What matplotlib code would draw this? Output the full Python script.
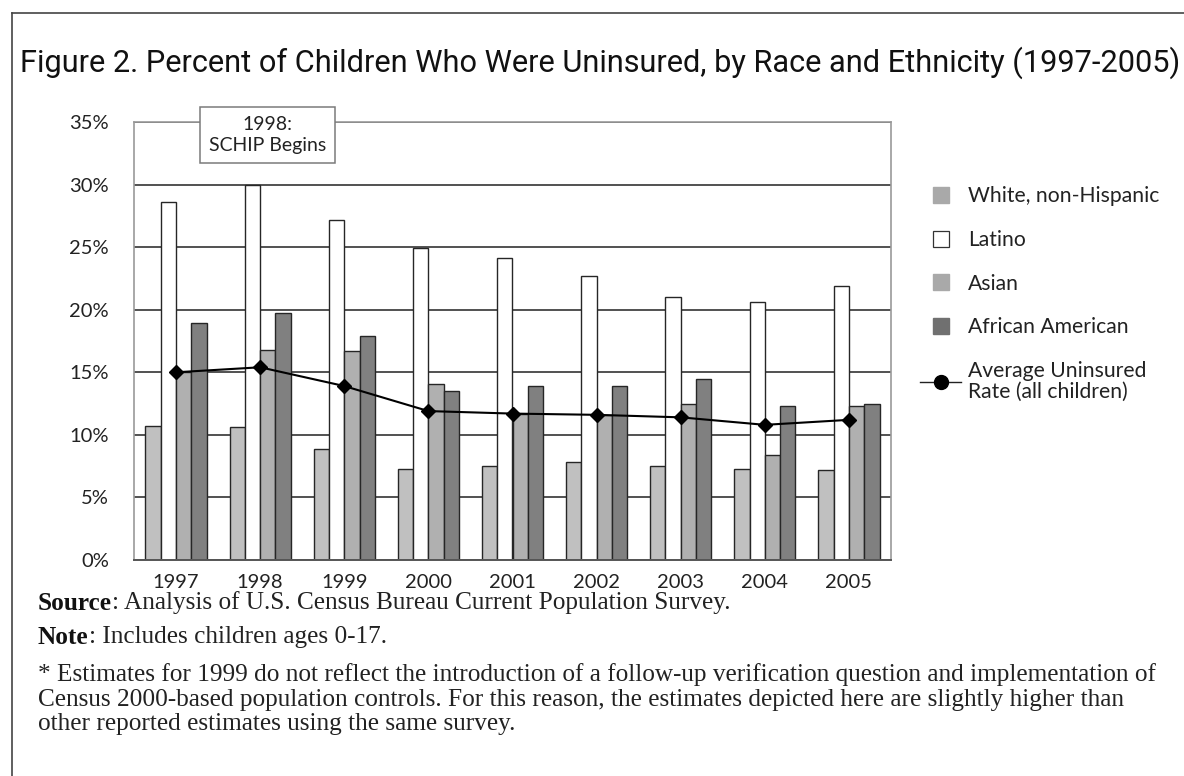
import matplotlib
matplotlib.use("Agg")
import matplotlib.pyplot as plt
from matplotlib import font_manager
from matplotlib.lines import Line2D
import numpy as np

# ---- data ----
years = ["1997", "1998", "1999", "2000", "2001", "2002", "2003", "2004", "2005"]
white_non_hispanic = [10.7, 10.6, 8.9, 7.3, 7.5, 7.8, 7.5, 7.3, 7.2]
latino = [28.6, 30.0, 27.2, 24.9, 24.1, 22.7, 21.0, 20.6, 21.9]
asian = [15.0, 16.8, 16.7, 14.1, 11.7, 11.6, 12.5, 8.4, 12.3]
african_american = [18.9, 19.7, 17.9, 13.5, 13.9, 13.9, 14.5, 12.3, 12.5]
average_all = [15.0, 15.4, 13.9, 11.9, 11.7, 11.6, 11.4, 10.8, 11.2]
y_ticks = [0, 5, 10, 15, 20, 25, 30, 35]
y_tick_labels = ["0%", "5%", "10%", "15%", "20%", "25%", "30%", "35%"]
series_labels = ["White, non-Hispanic", "Latino", "Asian", "African American",
                 "Average Uninsured\nRate (all children)"]

title_text = ("Figure 2. Percent of Children Who Were Uninsured, "
              "by Race and Ethnicity (1997-2005)")
note_lines = [
    "* Estimates for 1999 do not reflect the introduction of a follow-up "
    "verification question and implementation of",
    "Census 2000-based population controls. For this reason, the estimates "
    "depicted here are slightly higher than",
    "other reported estimates using the same survey.",
]

installed = {f.name for f in font_manager.fontManager.ttflist}
sans = "Lato" if "Lato" in installed else "DejaVu Sans"
title_font = "Roboto" if "Roboto" in installed else "DejaVu Sans"
serif = "Liberation Serif" if "Liberation Serif" in installed else "DejaVu Serif"

W, H = 1184, 776
fig = plt.figure(figsize=(W / 100, H / 100), dpi=100)
fig.patch.set_facecolor("white")

def fx(px):
    return px / W

def fy(py):
    return 1 - py / H

ax = fig.add_axes([fx(134), fy(560), fx(891) - fx(134), fy(122) - fy(560)])

x = np.arange(len(years))
w = 0.182
colors = ["#c0c0c0", "#ffffff", "#b0b0b0", "#808080"]
series = [white_non_hispanic, latino, asian, african_american]
for i, (vals, col) in enumerate(zip(series, colors)):
    ax.bar(x + (i - 1.5) * w, vals, width=w, color=col, edgecolor="#262626",
           linewidth=1.0, zorder=2)

ax.plot(x, average_all, color="black", linewidth=1.5, marker="D",
        markersize=7, zorder=4)

ax.set_xlim(-0.5, len(years) - 0.5)
ax.set_ylim(0, 35)
ax.set_yticks(y_ticks)
ax.set_yticklabels(y_tick_labels)
ax.set_xticks(x)
ax.set_xticklabels(years)
ax.tick_params(axis="both", length=0, labelsize=14.5, colors="#222222")
ax.tick_params(axis="y", pad=18)
ax.tick_params(axis="x", pad=10)
for lab in ax.get_xticklabels() + ax.get_yticklabels():
    lab.set_fontfamily(sans)
ax.yaxis.grid(True, color="#222222", linewidth=1.1, zorder=0)
ax.set_axisbelow(True)
for side in ["left", "right", "top"]:
    ax.spines[side].set_color("#9a9a9a")
    ax.spines[side].set_linewidth(1.2)
ax.spines["bottom"].set_color("#555555")
ax.spines["bottom"].set_linewidth(1.4)

# callout box marking SCHIP launch
ax.text(1.083, 33.96, "1998:\nSCHIP Begins", ha="center", va="center",
        fontsize=14, family=sans, color="#222222", zorder=6, clip_on=False,
        linespacing=1.3,
        bbox=dict(boxstyle="square,pad=0.45", facecolor="white",
                  edgecolor="#7a7a7a", linewidth=1.1))

# legend
handles = [
    Line2D([], [], linestyle="none", marker="s", markersize=11,
           markerfacecolor="#a9a9a9", markeredgecolor="#a9a9a9"),
    Line2D([], [], linestyle="none", marker="s", markersize=11,
           markerfacecolor="white", markeredgecolor="#333333",
           markeredgewidth=0.9),
    Line2D([], [], linestyle="none", marker="s", markersize=11,
           markerfacecolor="#a9a9a9", markeredgecolor="#a9a9a9"),
    Line2D([], [], linestyle="none", marker="s", markersize=11,
           markerfacecolor="#707070", markeredgecolor="#707070"),
    Line2D([], [], color="#222222", linewidth=1.0, marker="o", markersize=10,
           markerfacecolor="black", markeredgecolor="black"),
]
leg = fig.legend(handles, series_labels, loc="upper left",
                 bbox_to_anchor=(fx(912), fy(178)), frameon=False,
                 prop={"family": sans, "size": 15.2}, labelspacing=1.12,
                 handlelength=1.9, handletextpad=0.35, borderaxespad=0)
for t in leg.get_texts():
    t.set_color("#222222")
    t.set_linespacing(1.05)

# outer frame (left and top edges)
fig.add_artist(Line2D([fx(12), fx(12)], [fy(13), 0], color="#444444",
                      linewidth=1.2, transform=fig.transFigure))
fig.add_artist(Line2D([fx(12), 1], [fy(13), fy(13)], color="#444444",
                      linewidth=1.2, transform=fig.transFigure))

renderer = fig.canvas.get_renderer()

def fit_width(txt, target_px):
    fig.canvas.draw()
    bb = txt.get_window_extent(renderer=renderer)
    txt.set_fontsize(txt.get_fontsize() * target_px / bb.width)

title = fig.text(fx(20), fy(63), title_text, family=title_font, fontsize=20,
                 color="#111111", ha="left", va="center")
fit_width(title, 1160)

# footnotes
note_objs = []
for i, line in enumerate(note_lines):
    t = fig.text(fx(38), fy([675, 700, 724][i]), line, family=serif,
                 fontsize=13, color="#222222", ha="left", va="center")
    note_objs.append(t)
fit_width(note_objs[0], 1112)
fs_note = note_objs[0].get_fontsize()
for t in note_objs[1:]:
    t.set_fontsize(fs_note)

def bold_lead(y_px, lead, rest):
    a = fig.text(fx(38), fy(y_px), lead, family=serif, fontsize=fs_note,
                 weight="bold", color="#111111", ha="left", va="center")
    fig.canvas.draw()
    bb = a.get_window_extent(renderer=renderer)
    fig.text(bb.x1 / W, fy(y_px), rest, family=serif, fontsize=fs_note,
             color="#222222", ha="left", va="center")

bold_lead(603, "Source", ": Analysis of U.S. Census Bureau Current Population Survey.")
bold_lead(637, "Note", ": Includes children ages 0-17.")

fig.savefig("out.png", dpi=100, facecolor="white")
